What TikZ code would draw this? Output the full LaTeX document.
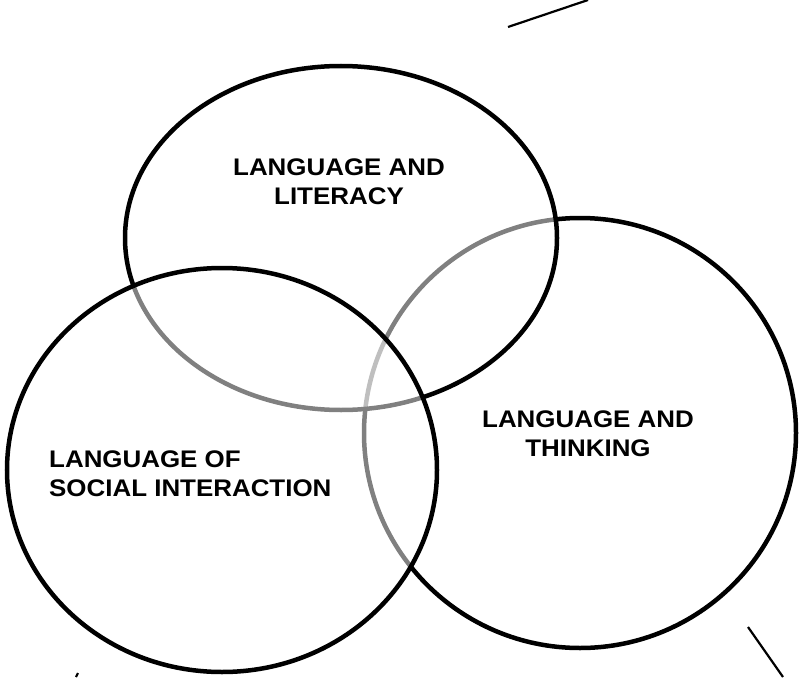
\documentclass[tikz,border=0pt]{standalone}
\usepackage{fontspec}
\setmainfont{Liberation Sans}[FakeStretch=1.08]
\usepackage{tikz}
\usetikzlibrary{positioning, calc}
\tikzset{
    ring/.style={draw=black, line width=4.5pt, fill=white, fill opacity=0.5},
    area/.style={font=\fontsize{24}{29}\selectfont\bfseries, align=center, inner sep=0pt},
    stroke/.style={draw=black, line width=2.2pt}
}

\begin{document}
\begin{tikzpicture}[x=1pt, y=-1pt]
    \useasboundingbox (0,0) rectangle (800,677);

    % Circles (later ones wash out the earlier outlines)
    \draw[ring] (580,433) ellipse [x radius=216, y radius=215];
    \draw[ring] (341,238) ellipse [x radius=216, y radius=172];
    \draw[ring] (222,470) ellipse [x radius=215, y radius=202];

    % Labels
    \node[area] (literacy) at (339,182) {LANGUAGE AND\\LITERACY};
    \node[area] (thinking) at (588,434) {LANGUAGE AND\\THINKING};
    \node[area, align=left, anchor=west] (social) at (49,474) {LANGUAGE OF\\SOCIAL INTERACTION};

    % Stray strokes at the edges
    \draw[stroke] (508,27) -- (588,0);
    \draw[stroke] (748,627) -- (783,677);
    \draw[stroke] (76,677) -- (78,673);
\end{tikzpicture}
\end{document}
